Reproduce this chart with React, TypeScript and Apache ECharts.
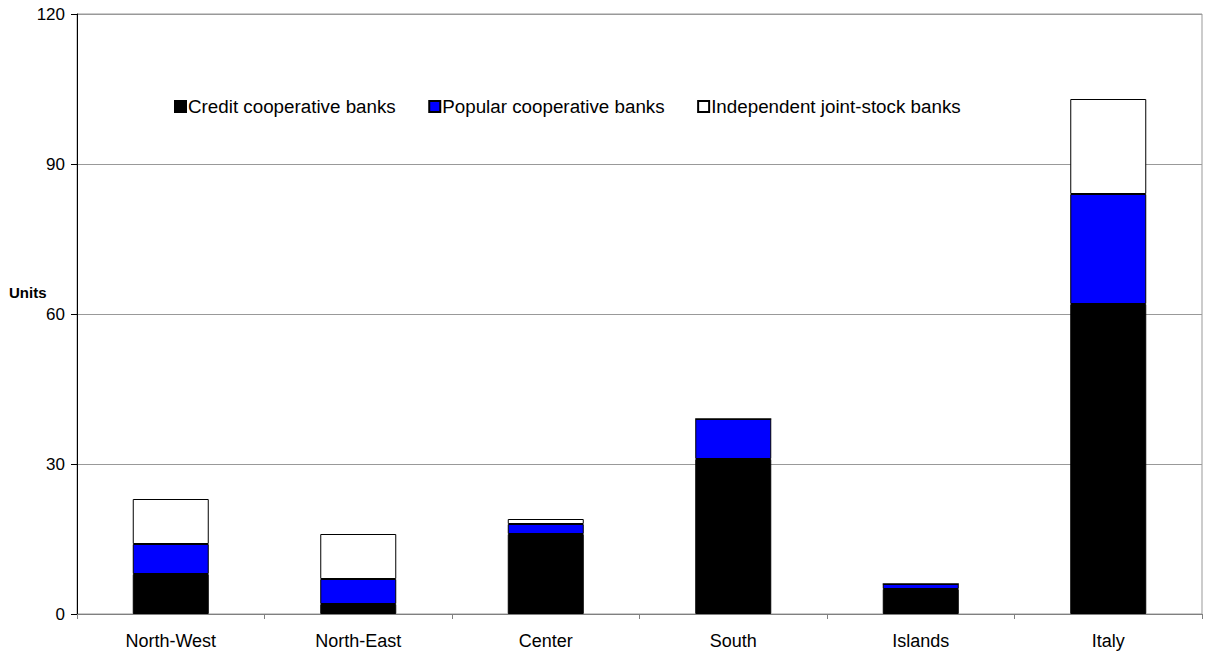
import React, { useEffect, useRef } from "react";
import * as echarts from "echarts";

const categories = ["North-West", "North-East", "Center", "South", "Islands", "Italy"];
const creditCoop = [8, 2, 16, 31, 5, 62];
const popularCoop = [6, 5, 2, 8, 1, 22];
const independentJS = [9, 9, 1, 0, 0, 19];
const yTicks = { min: 0, max: 120, interval: 30 };

const FONT = '"Liberation Sans", Arial, Helvetica, sans-serif';

export default function App() {
  const ref = useRef<HTMLDivElement>(null);
  useEffect(() => {
    if (!ref.current) return;
    const chart = echarts.init(ref.current, undefined, { renderer: "svg" });
    const barStyle = (color: string) => ({
      color,
      borderColor: "#000",
      borderWidth: 1,
    });
    chart.setOption({
      animation: false,
      backgroundColor: "#fff",
      textStyle: { fontFamily: FONT },
      grid: {
        left: 77,
        right: 5,
        top: 14,
        bottom: 41,
        show: true,
        borderColor: "#999",
        borderWidth: 1,
        backgroundColor: "transparent",
      },
      legend: {
        left: 174,
        top: 97,
        padding: 0,
        icon: "rect",
        itemWidth: 11,
        itemHeight: 11,
        itemGap: 32.5,
        textStyle: { fontSize: 18.8, color: "#000", fontFamily: FONT, padding: [0, 0, 0, -3] },
        data: [
          "Credit cooperative banks",
          "Popular cooperative banks",
          "Independent joint-stock banks",
        ],
      },
      graphic: [
        {
          type: "text",
          left: 9,
          top: 285,
          style: { text: "Units", fontSize: 15, fontWeight: "bold", fill: "#000", fontFamily: FONT },
        },
      ],
      xAxis: {
        type: "category",
        data: categories,
        axisLine: { lineStyle: { color: "#808080", width: 1 } },
        axisTick: { show: true, length: 5, lineStyle: { color: "#808080" } },
        axisLabel: { fontSize: 18, color: "#000", margin: 18, fontFamily: FONT },
      },
      yAxis: {
        type: "value",
        min: yTicks.min,
        max: yTicks.max,
        interval: yTicks.interval,
        axisLine: { show: true, lineStyle: { color: "#000", width: 1 } },
        axisTick: { show: true, length: 6, lineStyle: { color: "#000" } },
        axisLabel: { fontSize: 17, color: "#000", margin: 12, fontFamily: FONT },
        splitLine: { show: true, lineStyle: { color: "#999", width: 1 } },
      },
      series: [
        {
          name: "Credit cooperative banks",
          type: "bar",
          stack: "total",
          barWidth: 76,
          data: creditCoop,
          itemStyle: barStyle("#000000"),
        },
        {
          name: "Popular cooperative banks",
          type: "bar",
          stack: "total",
          barWidth: 76,
          data: popularCoop,
          itemStyle: barStyle("#0000FF"),
        },
        {
          name: "Independent joint-stock banks",
          type: "bar",
          stack: "total",
          barWidth: 76,
          data: independentJS,
          itemStyle: barStyle("#FFFFFF"),
        },
      ],
    });
    return () => chart.dispose();
  }, []);
  return (
    <div
      ref={ref}
      style={{ position: "fixed", left: 0, top: 0, width: 1207, height: 655, background: "#fff" }}
    />
  );
}
